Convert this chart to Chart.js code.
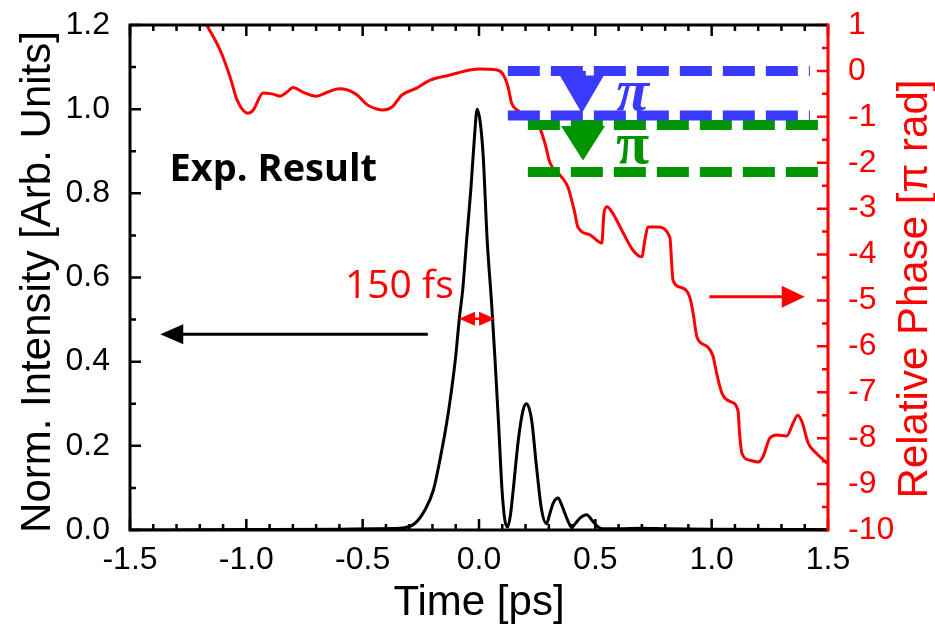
<!DOCTYPE html>
<html lang="en">
<head>
<meta charset="UTF-8">
<title>Exp. Result - pulse intensity and phase</title>
<script src="https://cdn.jsdelivr.net/npm/chart.js"></script>
<style>
    body { margin: 0; background: #fff; }
    canvas { display: block; }
</style>
</head>
<body>
<canvas id="pulse-chart" width="935" height="625"></canvas>
<script>
// measured pulse: time [ps] and normalized intensity
const intensityTime = [-1.5, -1.0, -0.6, -0.45, -0.34, -0.275, -0.232, -0.196, -0.165, -0.139, -0.118, -0.1, -0.085,
    -0.07, -0.053, -0.035, -0.02, -0.008, 0.005, 0.018, 0.035, 0.054, 0.068, 0.084, 0.099, 0.111, 0.123, 0.135,
    0.147, 0.169, 0.19, 0.204, 0.226, 0.247, 0.269, 0.29, 0.305, 0.319, 0.34, 0.355, 0.369, 0.385, 0.398, 0.415,
    0.434, 0.462, 0.49, 0.51, 0.53, 0.6, 0.7, 0.8, 1.0, 1.5];
const intensity = [0, 0.001, 0.002, 0.003, 0.004, 0.016, 0.048, 0.095, 0.175, 0.254, 0.333, 0.413, 0.5,
    0.571, 0.69, 0.81, 0.93, 1.0, 0.97, 0.889, 0.69, 0.54, 0.413, 0.254, 0.095, 0.024, 0.007, 0.035,
    0.095, 0.214, 0.286, 0.3, 0.262, 0.151, 0.048, 0.015, 0.04, 0.064, 0.076, 0.06, 0.04, 0.018, 0.006, 0.016,
    0.028, 0.036, 0.02, 0.008, 0.003, 0.003, 0.004, 0.003, 0.002, 0.001];

// relative phase [pi rad], right axis
const phaseTime = [-1.2, -1.17, -1.113, -1.07, -1.04, -0.993, -0.97, -0.928, -0.89, -0.855, -0.825, -0.8, -0.757,
    -0.7, -0.65, -0.6, -0.563, -0.525, -0.48, -0.44, -0.413, -0.375, -0.33, -0.27, -0.21, -0.125, -0.04, 0.004,
    0.077, 0.1, 0.125, 0.14, 0.163, 0.219, 0.253, 0.283, 0.305, 0.348, 0.382, 0.412, 0.425, 0.477, 0.528, 0.537,
    0.55, 0.571, 0.62, 0.661, 0.7, 0.713, 0.726, 0.765, 0.82, 0.834, 0.864, 0.906, 0.92, 0.937, 0.98, 1.005,
    1.022, 1.044, 1.078, 1.113, 1.12, 1.13, 1.164, 1.2, 1.22, 1.25, 1.28, 1.323, 1.35, 1.37, 1.39, 1.414, 1.45,
    1.495, 1.5];
const phase = [1.3, 1.0, 0.455, -0.13, -0.63, -0.92, -0.85, -0.48, -0.5, -0.55, -0.46, -0.36, -0.46,
    -0.55, -0.46, -0.39, -0.42, -0.52, -0.74, -0.83, -0.85, -0.79, -0.52, -0.38, -0.2, -0.09, 0.02, 0.04,
    0.02, -0.05, -0.35, -0.7, -0.85, -1.0, -1.14, -1.57, -2.0, -2.27, -2.53, -3.1, -3.4, -3.57, -3.75, -3.1,
    -2.96, -3.07, -3.53, -3.9, -4.05, -3.68, -3.4, -3.4, -3.62, -4.56, -4.71, -4.93, -5.27, -5.8, -6.0, -6.2,
    -6.6, -7.02, -7.2, -7.39, -7.9, -8.33, -8.48, -8.52, -8.41, -8.0, -7.93, -7.95, -7.67, -7.5, -7.67, -8.1, -8.33,
    -8.54, -8.56];

// pi phase steps marked with dashed levels
const blueLevels = [0, -0.97];
const blueSpan = [0.124, 1.422];
const greenLevels = [-1.18, -2.2];
const greenSpan = [0.21, 1.5];

// tick labels
const timeTicks = [-1.5, -1.0, -0.5, 0.0, 0.5, 1.0, 1.5];
const intensityTicks = [0.0, 0.2, 0.4, 0.6, 0.8, 1.0, 1.2];
const phaseTicks = [1, 0, -1, -2, -3, -4, -5, -6, -7, -8, -9, -10];

const RED = '#ff0000';
const BLUE = '#3a3aff';
const GREEN = '#009400';
const SANS = "'Liberation Sans', Arial, sans-serif";

Chart.defaults.font.family = SANS;

function levelLine(level, span, color) {
    return {
        data: span.map(t => ({ x: t, y: level })),
        yAxisID: 'y2',
        borderColor: color,
        borderWidth: 10,
        borderDash: [32, 11],
        pointRadius: 0,
        order: 0
    };
}

function arrowHead(ctx, tipX, tipY, dx, dy, len, half) {
    // dx,dy unit direction of the arrow
    const bx = tipX - dx * len, by = tipY - dy * len;
    ctx.beginPath();
    ctx.moveTo(tipX, tipY);
    ctx.lineTo(bx - dy * half, by + dx * half);
    ctx.lineTo(bx + dy * half, by - dx * half);
    ctx.closePath();
    ctx.fill();
}

function verticalText(ctx, text, x, y, color) {
    ctx.save();
    ctx.translate(x, y);
    ctx.rotate(-Math.PI / 2);
    ctx.textAlign = 'center';
    ctx.textBaseline = 'alphabetic';
    ctx.fillStyle = color;
    ctx.font = '42px ' + SANS;
    ctx.fillText(text, 0, 0);
    ctx.restore();
}

// vertical axes: fixed width, no extra label padding above/below the plot
function fixVertical(width) {
    return s => {
        s.width = width;
        s.paddingTop = 0;
        s.paddingBottom = 0;
    };
}

// frame, inward ticks, arrows and labels
const decorations = {
    id: 'decorations',
    afterDatasetsDraw(chart) {
        const ctx = chart.ctx;
        const { left, right, top, bottom } = chart.chartArea;
        const xs = chart.scales.x, ys = chart.scales.y, ps = chart.scales.y2;
        ctx.save();
        ctx.lineCap = 'butt';

        // ticks
        ctx.strokeStyle = '#000';
        ctx.lineWidth = 2.5;
        ctx.beginPath();
        for (let i = -15; i <= 15; i++) {
            const px = xs.getPixelForValue(i / 10);
            const len = i % 5 === 0 ? 11 : 6;
            ctx.moveTo(px, bottom); ctx.lineTo(px, bottom - len);
            ctx.moveTo(px, top); ctx.lineTo(px, top + len);
        }
        for (let i = 0; i <= 12; i++) {
            const py = ys.getPixelForValue(i / 10);
            const len = i % 2 === 0 ? 11 : 6;
            ctx.moveTo(left, py); ctx.lineTo(left + len, py);
        }
        ctx.stroke();

        ctx.strokeStyle = RED;
        ctx.beginPath();
        for (let i = -20; i <= 2; i++) {
            const py = ps.getPixelForValue(i / 2);
            const len = i % 2 === 0 ? 11 : 6;
            ctx.moveTo(right, py); ctx.lineTo(right - len, py);
        }
        ctx.stroke();

        // axis lines
        ctx.lineWidth = 3;
        ctx.strokeStyle = '#000';
        ctx.beginPath();
        ctx.moveTo(right, top); ctx.lineTo(left, top); ctx.lineTo(left, bottom); ctx.lineTo(right, bottom);
        ctx.stroke();
        ctx.strokeStyle = RED;
        ctx.beginPath();
        ctx.moveTo(right, top - 1.5); ctx.lineTo(right, bottom + 1.5);
        ctx.stroke();

        // arrow pointing to the intensity axis
        let ay = ys.getPixelForValue(0.465);
        let x0 = xs.getPixelForValue(-0.22), x1 = xs.getPixelForValue(-1.37);
        ctx.strokeStyle = '#000'; ctx.fillStyle = '#000'; ctx.lineWidth = 3;
        ctx.beginPath(); ctx.moveTo(x0, ay); ctx.lineTo(x1 + 20, ay); ctx.stroke();
        arrowHead(ctx, x1, ay, -1, 0, 23, 10);

        // arrow pointing to the phase axis
        ay = ps.getPixelForValue(-4.92);
        x0 = xs.getPixelForValue(0.99); x1 = xs.getPixelForValue(1.40);
        ctx.strokeStyle = RED; ctx.fillStyle = RED;
        ctx.beginPath(); ctx.moveTo(x0, ay); ctx.lineTo(x1 - 20, ay); ctx.stroke();
        arrowHead(ctx, x1, ay, 1, 0, 23, 11);

        // FWHM marker
        ay = ys.getPixelForValue(0.502);
        x0 = xs.getPixelForValue(-0.086); x1 = xs.getPixelForValue(0.069);
        ctx.lineWidth = 2.5;
        ctx.beginPath(); ctx.moveTo(x0 + 8, ay); ctx.lineTo(x1 - 8, ay); ctx.stroke();
        arrowHead(ctx, x0, ay, -1, 0, 16, 7);
        arrowHead(ctx, x1, ay, 1, 0, 16, 7);

        // pi step arrows
        [[BLUE, 0.442, 0, -0.1, -0.92], [GREEN, 0.447, -1.18, -1.2, -1.95]].forEach(a => {
            const sx = xs.getPixelForValue(a[1]);
            const yTop = ps.getPixelForValue(a[2]);
            const yBase = ps.getPixelForValue(a[3]);
            const yTip = ps.getPixelForValue(a[4]);
            ctx.fillStyle = a[0]; ctx.strokeStyle = a[0];
            ctx.lineWidth = 8;
            ctx.beginPath(); ctx.moveTo(sx, yTop); ctx.lineTo(sx, yTip - 10); ctx.stroke();
            arrowHead(ctx, sx, yTip, 0, 1, yTip - yBase, 22);
        });

        // texts
        ctx.textBaseline = 'alphabetic';
        ctx.textAlign = 'left';
        ctx.fillStyle = '#000';
        ctx.font = "bold 38px 'Open Sans'";
        ctx.fillText('Exp. Result', xs.getPixelForValue(-1.33), ys.getPixelForValue(0.829));
        ctx.fillStyle = RED;
        ctx.font = "39px 'Open Sans'";
        ctx.fillText('150 fs', xs.getPixelForValue(-0.576), ys.getPixelForValue(0.552));
        ctx.fillStyle = BLUE;
        ctx.font = "italic bold 60px 'Liberation Serif'";
        ctx.fillText('\u03c0', xs.getPixelForValue(0.59), ps.getPixelForValue(-0.852));
        ctx.fillStyle = GREEN;
        ctx.font = "bold 60px 'Liberation Serif'";
        ctx.fillText('\u03c0', xs.getPixelForValue(0.59), ps.getPixelForValue(-2.0));

        // axis titles, both read bottom to top
        verticalText(ctx, 'Norm. Intensity [Arb. Units]', 50, 282, '#000');
        verticalText(ctx, 'Relative Phase [\u03c0 rad]', 927, 289, RED);

        ctx.restore();
    }
};

const ctx = document.getElementById('pulse-chart').getContext('2d');
new Chart(ctx, {
    type: 'line',
    data: {
        datasets: [
            levelLine(blueLevels[0], blueSpan, BLUE),
            levelLine(blueLevels[1], blueSpan, BLUE),
            levelLine(greenLevels[0], greenSpan, GREEN),
            levelLine(greenLevels[1], greenSpan, GREEN),
            {
                data: phaseTime.map((t, i) => ({ x: t, y: phase[i] })),
                yAxisID: 'y2',
                borderColor: RED,
                borderWidth: 3,
                pointRadius: 0,
                cubicInterpolationMode: 'monotone',
                order: 2
            },
            {
                data: intensityTime.map((t, i) => ({ x: t, y: intensity[i] })),
                yAxisID: 'y',
                borderColor: '#000',
                borderWidth: 3,
                pointRadius: 0,
                cubicInterpolationMode: 'monotone',
                order: 1
            }
        ]
    },
    options: {
        responsive: false,
        animation: false,
        devicePixelRatio: 1,
        layout: { autoPadding: false, padding: { top: 25, left: 0, right: 0, bottom: 0 } },
        plugins: { legend: { display: false }, tooltip: { enabled: false } },
        scales: {
            x: {
                type: 'linear',
                position: 'bottom',
                min: -1.5, max: 1.5,
                afterBuildTicks: s => { s.ticks = timeTicks.map(v => ({ value: v })); },
                afterFit: s => { s.height = 95; },
                grid: { display: false },
                border: { display: false },
                ticks: { color: '#000', font: { size: 32 }, padding: 3, maxRotation: 0,
                    callback: v => v.toFixed(1) },
                title: { display: true, text: 'Time [ps]', color: '#000',
                    font: { size: 42, lineHeight: 1 }, padding: { top: 0, bottom: 1 } }
            },
            y: {
                position: 'left',
                min: 0, max: 1.2,
                afterBuildTicks: s => { s.ticks = intensityTicks.map(v => ({ value: v })); },
                afterFit: fixVertical(130),
                grid: { display: false },
                border: { display: false },
                ticks: { color: '#000', font: { size: 32 }, padding: 12,
                    callback: v => v.toFixed(1) }
            },
            y2: {
                position: 'right',
                min: -10, max: 1,
                afterBuildTicks: s => { s.ticks = phaseTicks.map(v => ({ value: v })); },
                afterFit: fixVertical(107),
                grid: { display: false },
                border: { display: false },
                ticks: { color: RED, font: { size: 32 }, padding: 12,
                    callback: v => String(v) }
            }
        }
    },
    plugins: [decorations]
});
</script>
</body>
</html>
